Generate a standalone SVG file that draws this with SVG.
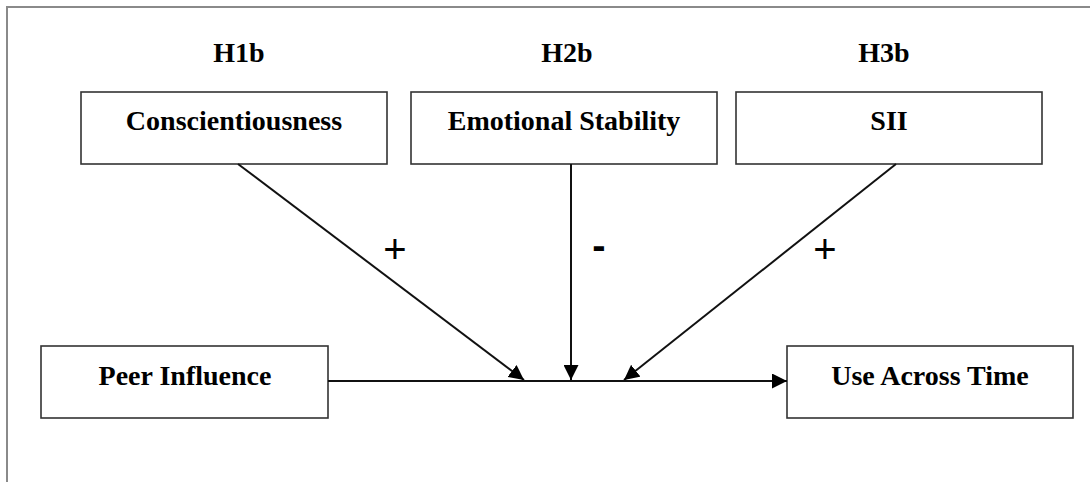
<svg xmlns="http://www.w3.org/2000/svg" width="1090" height="482" viewBox="0 0 1090 482">
  <style>
    .box { fill: #ffffff; stroke: #333333; stroke-width: 1.6; }
    .lbl { font-family: "Liberation Serif", "Times New Roman", serif; font-weight: bold; font-size: 28px; fill: #000; text-anchor: middle; }
    .sign { font-family: "Liberation Sans", Arial, sans-serif; font-size: 40px; fill: #000; text-anchor: middle; }
    .edge { stroke: #111111; stroke-width: 2; fill: none; }
    .frame { stroke: #8a8a8a; stroke-width: 2; fill: none; }
  </style>
  <defs>
    <marker id="arrow" viewBox="0 0 15 15" refX="15" refY="7.5" markerWidth="15" markerHeight="15" markerUnits="userSpaceOnUse" orient="auto">
      <path d="M0,0 L15,7.5 L0,15 Z" fill="#000"/>
    </marker>
  </defs>

  <rect width="1090" height="482" fill="#ffffff"/>
  <!-- outer frame: top and left edges -->
  <path class="frame" d="M7,482 L7,7 L1090,7"/>

  <!-- hypothesis labels -->
  <text class="lbl" x="239" y="62">H1b</text>
  <text class="lbl" x="567" y="62">H2b</text>
  <text class="lbl" x="884" y="62">H3b</text>

  <g id="conscientiousness">
    <rect class="box" x="81" y="92" width="306" height="72"/>
    <text class="lbl" x="234" y="130">Conscientiousness</text>
  </g>
  <g id="emotional-stability">
    <rect class="box" x="411" y="92" width="306" height="72"/>
    <text class="lbl" x="564" y="130">Emotional Stability</text>
  </g>
  <g id="sii">
    <rect class="box" x="736" y="92" width="306" height="72"/>
    <text class="lbl" x="889" y="130">SII</text>
  </g>
  <g id="peer-influence">
    <rect class="box" x="41" y="346" width="287" height="72"/>
    <text class="lbl" x="185" y="385">Peer Influence</text>
  </g>
  <g id="use-across-time">
    <rect class="box" x="787" y="346" width="286" height="72"/>
    <text class="lbl" x="930" y="385">Use Across Time</text>
  </g>

  <g id="connectors">
    <line class="edge" x1="328" y1="381" x2="787" y2="381" marker-end="url(#arrow)"/>
    <line class="edge" x1="238" y1="164" x2="524" y2="380" marker-end="url(#arrow)"/>
    <line class="edge" x1="571" y1="164" x2="571" y2="380" marker-end="url(#arrow)"/>
    <line class="edge" x1="896" y1="164" x2="624" y2="380" marker-end="url(#arrow)"/>
  </g>

  <!-- effect signs -->
  <text class="sign" x="395" y="263">+</text>
  <text class="sign" x="599" y="259" font-weight="bold">-</text>
  <text class="sign" x="825" y="263">+</text>
</svg>
